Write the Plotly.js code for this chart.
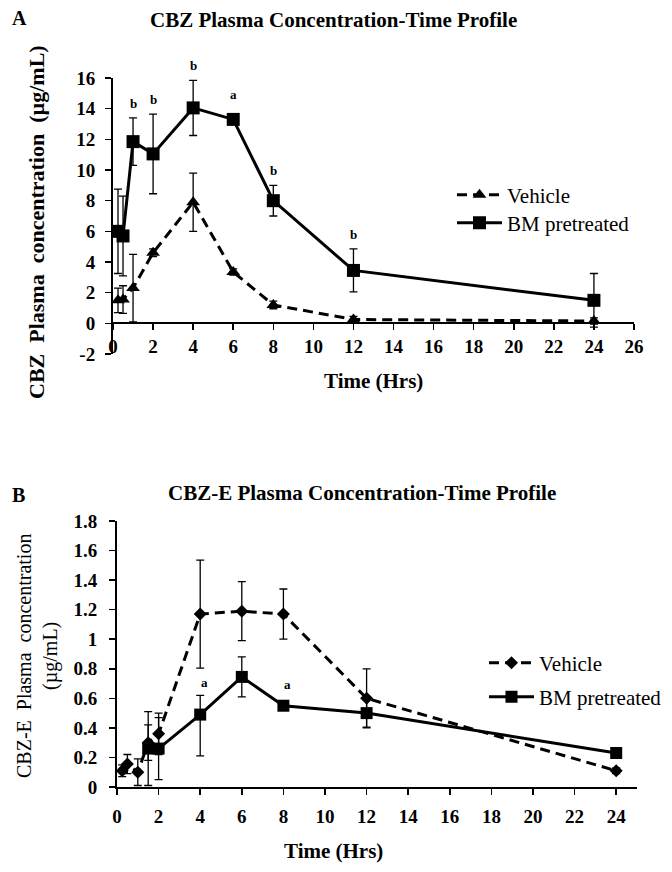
<!DOCTYPE html>
<html><head><meta charset="utf-8">
<script src="https://cdn.plot.ly/plotly-3.0.1.min.js"></script>
<style>html,body{margin:0;padding:0;background:#fff}#chart{width:672px;height:872px}</style>
</head><body><div id="chart"></div>
<script>
// ---------- Data: Panel A (CBZ) ----------
const timeA = [0.25, 0.5, 1, 2, 4, 6, 8, 12, 24];
const cbzVehicle = [1.5, 1.55, 2.3, 4.6, 7.9, 3.35, 1.2, 0.25, 0.15];
const cbzVehicleSD = [0.8, 0.9, 2.2, 0.25, 1.9, 0.2, 0.25, 0.2, 0.2];
const cbzBM = [6.0, 5.7, 11.85, 11.05, 14.05, 13.3, 8.0, 3.45, 1.5];
const cbzBMSD = [2.75, 2.6, 1.55, 2.6, 1.8, 0.2, 1.0, 1.4, 1.75];
const sigTimesA = [1, 2, 4, 6, 8, 12];
const sigLettersA = ['b', 'b', 'b', 'a', 'b', 'b'];
const yTicksA = [-2, 0, 2, 4, 6, 8, 10, 12, 14, 16];

// ---------- Data: Panel B (CBZ-E) ----------
const timeBVehicle = [0.25, 0.5, 1, 1.5, 2, 4, 6, 8, 12, 24];
const cbzeVehicle = [0.11, 0.155, 0.10, 0.30, 0.36, 1.17, 1.19, 1.17, 0.60, 0.11];
const cbzeVehicleSD = [0.04, 0.065, 0.09, 0.12, 0.14, 0.365, 0.2, 0.17, 0.2, 0.02];
const timeBBM = [1.5, 2, 4, 6, 8, 12, 24];
const cbzeBM = [0.26, 0.26, 0.49, 0.745, 0.55, 0.50, 0.23];
const cbzeBMSDUp = [0.25, 0.21, 0.13, 0.135, 0.03, 0.095, 0.02];
const cbzeBMSDDown = [0.25, 0.21, 0.28, 0.135, 0.03, 0.095, 0.02];
const sigTimesB = [4, 8];
const sigLettersB = ['a', 'a'];

const seriesNames = ['Vehicle', 'BM pretreated'];
const rangeA = {x: [0, 26], y: [-2, 16]};
const rangeB = {x: [0, 25], y: [0, 1.8]};

// ---------- Layout helpers (pixel boxes -> paper) ----------
const W = 672, H = 872;
const fx = v => v / W, fy = v => 1 - v / H;
const boxA = {l: 113, r: 634, t: 78, b: 354};
const boxB = {l: 117, r: 637, t: 521, b: 787};
const SERIF = 'Liberation Serif';
const black = '#000000';

function errBar(up, down) {
  const e = {type: 'data', array: up, visible: true, color: black, thickness: 1.3, width: 4};
  if (down) { e.symmetric = false; e.arrayminus = down; }
  return e;
}

const traces = [
  {x: timeA, y: cbzVehicle, name: seriesNames[0], type: 'scatter', mode: 'lines+markers',
   xaxis: 'x', yaxis: 'y', legend: 'legend',
   line: {color: black, width: 3, dash: '10px,6px'},
   marker: {symbol: 'triangle-up', size: 12, color: black},
   error_y: errBar(cbzVehicleSD)},
  {x: timeA, y: cbzBM, name: seriesNames[1], type: 'scatter', mode: 'lines+markers',
   xaxis: 'x', yaxis: 'y', legend: 'legend2',
   line: {color: black, width: 3},
   marker: {symbol: 'square', size: 13, color: black},
   error_y: errBar(cbzBMSD)},
  {x: timeBVehicle, y: cbzeVehicle, name: seriesNames[0], type: 'scatter', mode: 'lines+markers',
   xaxis: 'x2', yaxis: 'y2', legend: 'legend3',
   line: {color: black, width: 3, dash: '10px,6px'},
   marker: {symbol: 'diamond', size: 10, color: black},
   error_y: errBar(cbzeVehicleSD)},
  {x: timeBBM, y: cbzeBM, name: seriesNames[1], type: 'scatter', mode: 'lines+markers',
   xaxis: 'x2', yaxis: 'y2', legend: 'legend4',
   line: {color: black, width: 3},
   marker: {symbol: 'square', size: 12, color: black},
   error_y: errBar(cbzeBMSDUp, cbzeBMSDDown)}
];

const tickFont = {family: SERIF, size: 19, color: black, weight: 'bold'};
const axisCommon = {showgrid: false, zeroline: false, showline: true, linecolor: black, linewidth: 2,
  ticks: 'outside', ticklen: 6, tickwidth: 1.5, tickcolor: black, tickfont: tickFont, fixedrange: true};

const yA0 = fy(boxA.b), yA1 = fy(boxA.t);
const zeroPosA = yA0 + (0 - rangeA.y[0]) / (rangeA.y[1] - rangeA.y[0]) * (yA1 - yA0);

function sigAnnotations(times, letters, xs, ys, sds, xref, yref, box, yr, minHalfPx, extra, xshift) {
  const ppu = (box.b - box.t) / (yr[1] - yr[0]);
  return times.map((t, i) => {
    const idx = xs.indexOf(t);
    const errPx = sds[idx] * ppu;
    const shift = Math.max(errPx, minHalfPx) - errPx + extra;
    return {x: t, y: ys[idx] + sds[idx], xref: xref, yref: yref, text: letters[i],
      showarrow: false, yanchor: 'bottom', yshift: shift, xshift: xshift || 0,
      font: {family: SERIF, size: 13, color: black, weight: 'bold'}};
  });
}

const legendCommon = {bgcolor: 'rgba(0,0,0,0)', borderwidth: 0, xanchor: 'left', yanchor: 'middle',
  font: {family: SERIF, size: 21, color: black, weight: 'normal'}, itemwidth: 45,
  itemclick: false, itemdoubleclick: false};

const bold = s => ({family: SERIF, size: s, color: black, weight: 'bold'});
const annotations = [
  {text: 'A', x: fx(10), y: fy(18), xanchor: 'left', font: bold(20)},
  {text: 'CBZ Plasma Concentration-Time Profile', x: fx(333), y: fy(20), font: bold(21)},
  {text: 'B', x: fx(10), y: fy(495), xanchor: 'left', font: bold(20)},
  {text: 'CBZ-E Plasma Concentration-Time Profile', x: fx(362), y: fy(493), font: bold(21)},
  {text: 'Time (Hrs)', x: fx(373), y: fy(381), font: bold(21)},
  {text: 'Time (Hrs)', x: fx(333), y: fy(851), font: bold(21)},
  {text: 'CBZ  Plasma  concentration  (µg/mL)', x: fx(37), y: fy(222), textangle: -90, font: bold(22)},
  {text: 'CBZ-E  Plasma  concentration<br>(µg/mL)', x: fx(37), y: fy(656), textangle: -90,
   font: {family: SERIF, size: 20, color: black, weight: 'normal'}}
].map(a => Object.assign({xref: 'paper', yref: 'paper', showarrow: false, xanchor: 'center', yanchor: 'middle'}, a))
 .concat(sigAnnotations(sigTimesA, sigLettersA, timeA, cbzBM, cbzBMSD, 'x', 'y', boxA, rangeA.y, 10, 5, 0))
 .concat(sigAnnotations(sigTimesB, sigLettersB, timeBBM, cbzeBM, cbzeBMSDUp, 'x2', 'y2', boxB, rangeB.y, 9, 3, 4));

const layout = {
  width: W, height: H, margin: {l: 0, r: 0, t: 0, b: 0},
  paper_bgcolor: '#ffffff', plot_bgcolor: 'rgba(0,0,0,0)',
  font: {family: SERIF, color: black},
  xaxis: Object.assign({}, axisCommon, {domain: [fx(boxA.l), fx(boxA.r)], range: rangeA.x, dtick: 2,
    anchor: 'free', position: zeroPosA, ticklabelstandoff: 0}),
  yaxis: Object.assign({}, axisCommon, {domain: [yA0, yA1], range: rangeA.y, anchor: 'x',
    tickmode: 'array', tickvals: yTicksA, ticktext: yTicksA.map(v => String(v)), ticklabelstandoff: 6}),
  xaxis2: Object.assign({}, axisCommon, {domain: [fx(boxB.l), fx(boxB.r)], range: rangeB.x, dtick: 2,
    anchor: 'y2', ticklabelstandoff: 5}),
  yaxis2: Object.assign({}, axisCommon, {domain: [fy(boxB.b), fy(boxB.t)], range: rangeB.y, dtick: 0.2,
    anchor: 'x2', ticklabelstandoff: 8}),
  legend: Object.assign({}, legendCommon, {x: fx(452), y: fy(195)}),
  legend2: Object.assign({}, legendCommon, {x: fx(452), y: fy(223)}),
  legend3: Object.assign({}, legendCommon, {x: fx(484), y: fy(663)}),
  legend4: Object.assign({}, legendCommon, {x: fx(484), y: fy(697)}),
  annotations: annotations,
  showlegend: true
};

Plotly.newPlot('chart', traces, layout, {displayModeBar: false, staticPlot: true});
</script>
</body></html>
